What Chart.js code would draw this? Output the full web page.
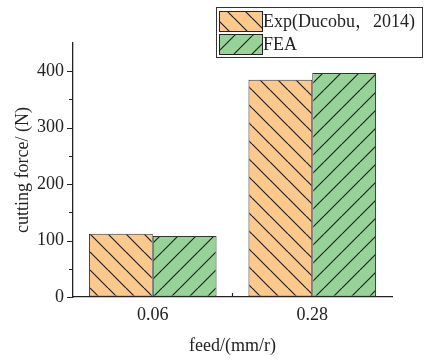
<!DOCTYPE html>
<html>
<head>
<meta charset="utf-8">
<script src="https://cdn.jsdelivr.net/npm/chart.js@4/dist/chart.umd.min.js"></script>
<style>
  html, body { margin: 0; padding: 0; background: #fff; }
  canvas { display: block; }
</style>
</head>
<body>
<canvas id="chart" width="427" height="361"></canvas>
<script>
// Cutting force vs. feed: experiment vs. finite-element result
const categories = ['0.06', '0.28'];
const expValues = [112, 385];
const feaValues = [108, 397];
const yTickValues = [0, 100, 200, 300, 400];
const yMinorValues = [50, 150, 250, 350];
const seriesNames = ['Exp(Ducobu\uFF0C2014)', 'FEA'];

const FONT = "'Liberation Serif', 'Times New Roman', 'Noto Serif CJK SC', serif";
const INK = '#222';
const ORANGE = '#fcc98d';
const GREEN = '#97d398';

// Hatched fill: dir = 1 for "\" lines, -1 for "/" lines
function hatch(base, dir) {
  const s = 18;
  const c = document.createElement('canvas');
  c.width = s; c.height = s;
  const g = c.getContext('2d');
  g.fillStyle = base;
  g.fillRect(0, 0, s, s);
  g.strokeStyle = INK;
  g.lineWidth = 1.2;
  g.beginPath();
  for (let k = -1; k <= 1; k++) {
    if (dir > 0) {
      g.moveTo(k * s, 0); g.lineTo(k * s + s, s);
    } else {
      g.moveTo(k * s, s); g.lineTo(k * s + s, 0);
    }
  }
  g.stroke();
  return g.createPattern(c, 'repeat');
}

const expFill = hatch(ORANGE, 1);
const feaFill = hatch(GREEN, -1);

const decorations = {
  id: 'decorations',
  afterDraw(chart) {
    const ctx = chart.ctx;
    const y = chart.scales.y;
    const x = chart.scales.x;
    const area = chart.chartArea;
    ctx.save();
    ctx.strokeStyle = INK;
    ctx.lineWidth = 1.2;
    ctx.beginPath();
    yTickValues.forEach(v => {
      const py = Math.round(y.getPixelForValue(v)) + 0.5;
      ctx.moveTo(area.left - 6, py); ctx.lineTo(area.left, py);
    });
    yMinorValues.forEach(v => {
      const py = Math.round(y.getPixelForValue(v)) + 0.5;
      ctx.moveTo(area.left - 4, py); ctx.lineTo(area.left, py);
    });
    // boundary tick between the two feed groups
    const mid = (x.getPixelForValue(0) + x.getPixelForValue(1)) / 2;
    ctx.moveTo(mid, area.bottom); ctx.lineTo(mid, area.bottom - 4);
    ctx.stroke();

    // legend box
    const bx = 216.5, by = 7.5, bw = 206, bh = 50;
    ctx.fillStyle = '#fff';
    ctx.fillRect(bx, by, bw, bh);
    ctx.lineWidth = 1;
    ctx.strokeStyle = '#333';
    ctx.strokeRect(bx, by, bw, bh);
    const fills = [expFill, feaFill];
    const rows = [11.5, 34.5];
    ctx.font = '18px ' + FONT;
    ctx.textBaseline = 'middle';
    ctx.textAlign = 'left';
    rows.forEach((ry, i) => {
      ctx.fillStyle = fills[i];
      ctx.fillRect(219.5, ry, 43, 20);
      ctx.strokeStyle = INK;
      ctx.lineWidth = 1;
      ctx.strokeRect(219.5, ry, 43, 20);
      ctx.fillStyle = INK;
      ctx.fillText(seriesNames[i], 263, ry + 11);
    });
    ctx.restore();
  }
};

new Chart(document.getElementById('chart'), {
  type: 'bar',
  data: {
    labels: categories,
    datasets: [
      { label: seriesNames[0], data: expValues, backgroundColor: expFill,
        borderColor: '#333', borderWidth: 1, borderSkipped: false },
      { label: seriesNames[1], data: feaValues, backgroundColor: feaFill,
        borderColor: '#333', borderWidth: 1, borderSkipped: false }
    ]
  },
  options: {
    responsive: false,
    devicePixelRatio: 1,
    animation: false,
    layout: { padding: { top: 43, right: 35, left: 0, bottom: 0 } },
    datasets: { bar: { barPercentage: 1, categoryPercentage: 0.8 } },
    plugins: { legend: { display: false }, tooltip: { enabled: false } },
    scales: {
      x: {
        type: 'category',
        offset: true,
        grid: { display: false, drawTicks: false },
        border: { display: true, color: INK, width: 1.3 },
        ticks: { color: INK, font: { family: FONT, size: 18 }, padding: 7 },
        title: { display: true, text: 'feed/(mm/r)', color: INK,
                 font: { family: FONT, size: 18 }, padding: { top: 0, bottom: 4 } },
        afterFit(scale) { scale.height = 64; }
      },
      y: {
        min: 0,
        max: 450,
        afterBuildTicks(scale) { scale.ticks = yTickValues.map(v => ({ value: v })); },
        grid: { display: true, drawOnChartArea: false, drawTicks: true,
                tickLength: 6, tickColor: 'rgba(0,0,0,0)' },
        border: { display: true, color: INK, width: 1.3 },
        ticks: { color: INK, font: { family: FONT, size: 18 }, padding: 3 },
        title: { display: true, text: 'cutting force/ (N)', color: INK,
                 font: { family: FONT, size: 18 }, padding: { top: 12, bottom: 0 } },
        afterFit(scale) { scale.width = 73; }
      }
    }
  },
  plugins: [decorations]
});
</script>
</body>
</html>
